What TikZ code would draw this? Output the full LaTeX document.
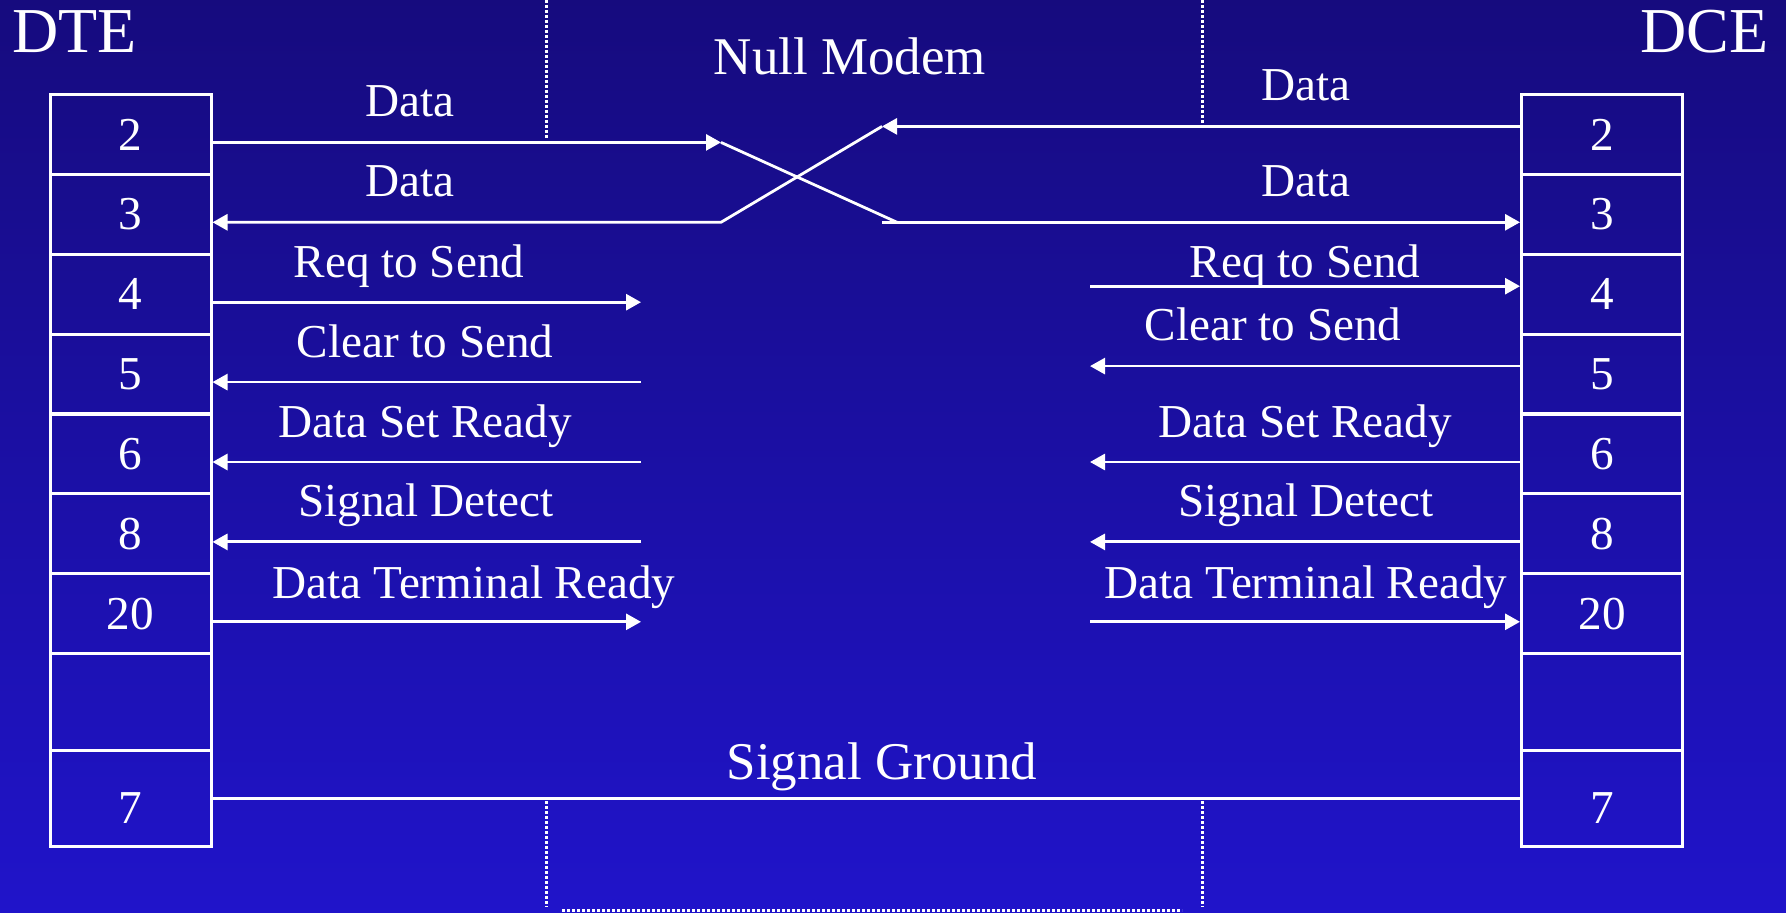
\documentclass[tikz,border=0pt]{standalone}
\usepackage{fontspec}
\setmainfont{Liberation Serif}
\usetikzlibrary{arrows.meta}
\definecolor{bgtop}{RGB}{22,11,126}
\definecolor{bgbot}{RGB}{32,20,202}

\begin{document}
\begin{tikzpicture}[x=0.5pt,y=-0.5pt,
        >={Triangle[length=7.5pt,width=8pt]},
        pinbox/.style={draw=white,line width=1.5pt,minimum width=80.5pt,minimum height=39.9pt,
            inner sep=0pt,text=white,font=\fontsize{23.6pt}{28pt}\selectfont},
        wire/.style={white,line width=1.4pt},
        lbl/.style={text=white,inner sep=0pt,anchor=base,font=\fontsize{23.6pt}{28pt}\selectfont},
        nmline/.style={white,line width=1.5pt,dash pattern=on 1.3pt off 1.2pt}]
        \useasboundingbox (0,0) rectangle (1786,913);
        \shade[top color=bgtop,bottom color=bgbot] (0,0) rectangle (1786,913);

        % null modem outline
        \draw[nmline] (546,0) -- (546,138);
        \draw[nmline] (1202,0) -- (1202,123);
        \draw[nmline] (546,801) -- (546,907);
        \draw[nmline] (1202,801) -- (1202,907);
        \draw[nmline] (562,910) -- (1182,910);

        \node[lbl,anchor=base west,font=\fontsize{32pt}{36pt}\selectfont] (dte) at (12,53) {DTE};
        \node[lbl,anchor=base east,font=\fontsize{32pt}{36pt}\selectfont] (dce) at (1769,53) {DCE};
        \node[lbl,font=\fontsize{26.5pt}{30pt}\selectfont] (nullmodem) at (850,75) {Null Modem};

        % DTE pins
        \node[pinbox] (dte2) at (130.5,134.4) {2};
        \node[pinbox] (dte3) at (130.5,214.3) {3};
        \node[pinbox] (dte4) at (130.5,294.2) {4};
        \node[pinbox] (dte5) at (130.5,374.1) {5};
        \node[pinbox] (dte6) at (130.5,454.0) {6};
        \node[pinbox] (dte8) at (130.5,533.9) {8};
        \node[pinbox] (dte20) at (130.5,613.8) {20};
        \node[pinbox,minimum height=48.4pt] (dtex) at (130.5,702.2) {};
        \node[pinbox,minimum height=47.9pt,text height=25pt,text depth=0pt] (dte7) at (130.5,798.4) {7};

        % DCE pins
        \node[pinbox] (dce2) at (1602,134.4) {2};
        \node[pinbox] (dce3) at (1602,214.3) {3};
        \node[pinbox] (dce4) at (1602,294.2) {4};
        \node[pinbox] (dce5) at (1602,374.1) {5};
        \node[pinbox] (dce6) at (1602,454.0) {6};
        \node[pinbox] (dce8) at (1602,533.9) {8};
        \node[pinbox] (dce20) at (1602,613.8) {20};
        \node[pinbox,minimum height=48.4pt] (dcex) at (1602,702.2) {};
        \node[pinbox,minimum height=47.9pt,text height=25pt,text depth=0pt] (dce7) at (1602,798.4) {7};

        \coordinate (lend) at (641,0);
        \coordinate (rend) at (1090,0);
        \coordinate (xl) at (721,0);
        \coordinate (xr) at (882,0);
        \coordinate (xc) at (897,0);

        % crossed data lines
        \draw[wire,->] ([yshift=-4pt]dte2.east) -- ([yshift=-4pt]dte2.east -| xl) coordinate (cA);
        \draw[wire] (cA) -- ([yshift=-4pt]dce3.west -| xc);
        \draw[wire,->] ([yshift=-4pt]dce3.west -| xr) -- ([yshift=-4pt]dce3.west);
        \draw[wire,<-] ([yshift=-4pt]dte3.east) -- ([yshift=-4pt]dte3.east -| xl) coordinate (cB)
            -- ([yshift=4pt]dce2.west -| xr) coordinate (cC);
        \draw[wire,<-] (cC) -- ([yshift=4pt]dce2.west);

        % DTE side
        \draw[wire,->] ([yshift=-4pt]dte4.east) -- ([yshift=-4pt]dte4.east -| lend);
        \draw[wire,<-] ([yshift=-4pt]dte5.east) -- ([yshift=-4pt]dte5.east -| lend);
        \draw[wire,<-] ([yshift=-4pt]dte6.east) -- ([yshift=-4pt]dte6.east -| lend);
        \draw[wire,<-] ([yshift=-4pt]dte8.east) -- ([yshift=-4pt]dte8.east -| lend);
        \draw[wire,->] ([yshift=-4pt]dte20.east) -- ([yshift=-4pt]dte20.east -| lend);

        % DCE side
        \draw[wire,<-] ([yshift=4pt]dce4.west) -- ([yshift=4pt]dce4.west -| rend);
        \draw[wire,->] ([yshift=4pt]dce5.west) -- ([yshift=4pt]dce5.west -| rend);
        \draw[wire,->] ([yshift=-4pt]dce6.west) -- ([yshift=-4pt]dce6.west -| rend);
        \draw[wire,->] ([yshift=-4pt]dce8.west) -- ([yshift=-4pt]dce8.west -| rend);
        \draw[wire,<-] ([yshift=-4pt]dce20.west) -- ([yshift=-4pt]dce20.west -| rend);

        \draw[wire] (dte7.east) -- (dce7.west);

        % labels
        \node[lbl] (ldata2) at (410,117) {Data};
        \node[lbl] (ldata3) at (410,197) {Data};
        \node[lbl] (lrts) at (409,278) {Req to Send};
        \node[lbl] (lcts) at (425,358) {Clear to Send};
        \node[lbl] (ldsr) at (425,438) {Data Set Ready};
        \node[lbl] (lsd) at (426,517) {Signal Detect};
        \node[lbl] (ldtr) at (474,598) {Data Terminal Ready};

        \node[lbl] (rdata2) at (1306,101) {Data};
        \node[lbl] (rdata3) at (1306,197) {Data};
        \node[lbl] (rrts) at (1305,278) {Req to Send};
        \node[lbl] (rcts) at (1273,341) {Clear to Send};
        \node[lbl] (rdsr) at (1305,438) {Data Set Ready};
        \node[lbl] (rsd) at (1306,517) {Signal Detect};
        \node[lbl] (rdtr) at (1306,598) {Data Terminal Ready};

        \node[lbl,font=\fontsize{26.5pt}{30pt}\selectfont] (ground) at (882,779) {Signal Ground};
    \end{tikzpicture}
\end{document}
